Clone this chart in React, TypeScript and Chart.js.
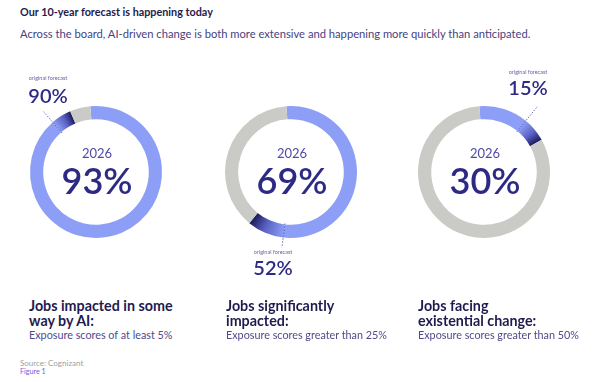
import React, { useEffect, useRef } from 'react';
import { Chart, registerables } from 'chart.js';

Chart.register(...registerables);

// ---- data ----
const titleText = 'Our 10-year forecast is happening today';
const subtitleText =
  'Across the board, AI-driven change is both more extensive and happening more quickly than anticipated.';
const forecastYear = '2026';
const categoryTitles = [
  ['Jobs impacted in some', 'way by AI:'],
  ['Jobs significantly', 'impacted:'],
  ['Jobs facing', 'existential change:'],
];
const categoryNotes = [
  'Exposure scores of at least 5%',
  'Exposure scores greater than 25%',
  'Exposure scores greater than 50%',
];
const currentLabels = ['93%', '69%', '30%'];
const originalLabels = ['90%', '52%', '15%'];
const originalNote = 'original forecast';
// ring segments as drawn in the figure (share of the full circle, %)
const arcOriginal = [90, 53, 12];
const arcGain = [5, 9, 6];
const arcRemaining = [5, 38, 82];
const segmentNames = ['original forecast', 'change to 2026', 'not impacted'];
const sourceText = 'Source: Cognizant';
const figureText = 'Figure 1';

// ---- layout / style ----
const FONT = 'Lato, "Noto Sans", sans-serif';
const LIGHT = '#8c9ef5';
const DARK = '#1c1a5c';
const GRAY = '#cacbc6';
const NAVY = '#2d2a86';
const LEADER = '#4b47a6';
const CX = [96, 291, 484];
const CY = 172;
const SIZE = 200;
const RADIUS = 66;
const ROTATION = [-5, -4, -4];
const LEADER_EXT = [14, 10, 19];
const LABEL_POS = [
  { x: 48, noteY: 79, valY: 95 },
  { x: 273, noteY: 253, valY: 267 },
  { x: 528, noteY: 73, valY: 87 },
];
const COL_X = [29, 226, 418];

function Donut({ index }: { index: number }) {
  const ref = useRef<HTMLCanvasElement | null>(null);
  useEffect(() => {
    const canvas = ref.current;
    if (!canvas) return;
    const data = [arcOriginal[index], arcGain[index], arcRemaining[index]];
    const total = data.reduce((a, b) => a + b, 0);
    const rotation = ROTATION[index];
    const ext = LEADER_EXT[index];
    const leader = {
      id: 'leader' + index,
      afterDatasetsDraw(chart: any) {
        const arc = chart.getDatasetMeta(0).data[1];
        if (!arc) return;
        const p = arc.getProps(['x', 'y', 'startAngle', 'innerRadius', 'outerRadius'], true);
        const a = p.startAngle;
        const ctx = chart.ctx;
        ctx.save();
        ctx.setLineDash([1.5, 1.5]);
        ctx.strokeStyle = LEADER;
        ctx.lineWidth = 0.8;
        ctx.beginPath();
        ctx.moveTo(p.x + Math.cos(a) * (p.innerRadius - 1), p.y + Math.sin(a) * (p.innerRadius - 1));
        ctx.lineTo(p.x + Math.cos(a) * (p.outerRadius + ext), p.y + Math.sin(a) * (p.outerRadius + ext));
        ctx.stroke();
        ctx.restore();
      },
    };
    const chart = new Chart(canvas, {
      type: 'doughnut',
      data: {
        labels: segmentNames,
        datasets: [
          {
            data,
            borderWidth: 0,
            backgroundColor: (c: any) => {
              if (c.type !== 'data' || c.dataIndex === 0) return LIGHT;
              if (c.dataIndex === 2) return GRAY;
              const area = c.chart.chartArea;
              if (!area) return DARK;
              const cx = (area.left + area.right) / 2;
              const cy = (area.top + area.bottom) / 2;
              const start = -Math.PI / 2 + (rotation * Math.PI) / 180 + (data[0] / total) * 2 * Math.PI;
              const len = (data[1] / total) * 2 * Math.PI;
              const pre = 0.1;
              const g = c.chart.ctx.createConicGradient(start - pre, cx, cy);
              g.addColorStop(0, LIGHT);
              g.addColorStop(pre / (2 * Math.PI), LIGHT);
              g.addColorStop((pre + len * 0.55) / (2 * Math.PI), '#5a62c4');
              g.addColorStop((pre + len) / (2 * Math.PI), DARK);
              g.addColorStop(1, DARK);
              return g;
            },
          },
        ],
      },
      options: {
        responsive: false,
        animation: false,
        cutout: '80%',
        rotation,
        events: [],
        layout: { padding: (SIZE - 2 * RADIUS) / 2 },
        plugins: { legend: { display: false }, tooltip: { enabled: false } },
      },
      plugins: [leader],
    } as any);
    return () => chart.destroy();
  }, [index]);
  return (
    <canvas
      ref={ref}
      width={SIZE}
      height={SIZE}
      style={{ position: 'absolute', left: CX[index] - SIZE / 2, top: CY - SIZE / 2, width: SIZE, height: SIZE }}
    />
  );
}

const centered = (x: number, y: number): React.CSSProperties => ({
  position: 'absolute',
  left: x,
  top: y,
  transform: 'translate(-50%, -50%)',
  lineHeight: 1,
  whiteSpace: 'nowrap',
});

export default function App() {
  return (
    <div
      style={{
        position: 'fixed',
        left: 0,
        top: 0,
        width: 600,
        height: 382,
        background: '#ffffff',
        fontFamily: FONT,
        overflow: 'hidden',
      }}
    >
      <div
        style={{
          position: 'absolute',
          left: 20,
          top: 7,
          fontSize: 10.8,
          lineHeight: 1,
          fontWeight: 700,
          color: '#1f1b4d',
          whiteSpace: 'nowrap',
        }}
      >
        {titleText}
      </div>
      <div
        style={{
          position: 'absolute',
          left: 20,
          top: 28,
          fontSize: 11.2,
          lineHeight: 1,
          color: '#47437f',
          whiteSpace: 'nowrap',
        }}
      >
        {subtitleText}
      </div>
      {[0, 1, 2].map((i) => (
        <React.Fragment key={i}>
          <Donut index={i} />
          <div style={{ ...centered(CX[i] + 1, CY - 19), fontSize: 13, color: '#4e4aa8' }}>{forecastYear}</div>
          <div style={{ ...centered(CX[i] + 1, CY + 8), fontSize: 36, fontWeight: 600, color: NAVY }}>
            {currentLabels[i]}
          </div>
          <div style={{ ...centered(LABEL_POS[i].x, LABEL_POS[i].noteY), fontSize: 5.5, color: '#6a66a6' }}>
            {originalNote}
          </div>
          <div style={{ ...centered(LABEL_POS[i].x, LABEL_POS[i].valY), fontSize: 20, fontWeight: 600, color: NAVY }}>
            {originalLabels[i]}
          </div>
          <div style={{ position: 'absolute', left: COL_X[i], top: 298, whiteSpace: 'nowrap' }}>
            <div style={{ fontSize: 14.3, fontWeight: 700, color: '#1f1b4d', lineHeight: '15px' }}>
              {categoryTitles[i][0]}
              <br />
              {categoryTitles[i][1]}
            </div>
            <div style={{ fontSize: 10.8, color: '#4f4b8a', lineHeight: '13px' }}>{categoryNotes[i]}</div>
          </div>
        </React.Fragment>
      ))}
      <div style={{ position: 'absolute', left: 20, top: 359, fontSize: 8, color: '#a0a0a0', lineHeight: 1 }}>
        {sourceText}
      </div>
      <div style={{ position: 'absolute', left: 20, top: 368, fontSize: 7.2, color: '#6b63e0', lineHeight: 1 }}>
        {figureText}
      </div>
    </div>
  );
}
